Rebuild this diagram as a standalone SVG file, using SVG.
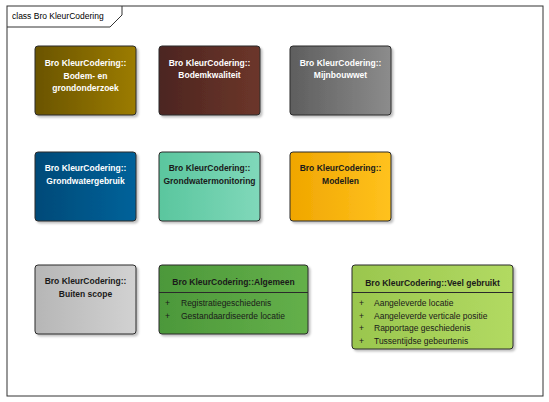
<svg xmlns="http://www.w3.org/2000/svg" width="549" height="402" viewBox="0 0 549 402">
<defs>
<linearGradient id="g1" x1="0" x2="1" y1="0" y2="0"><stop offset="0" stop-color="#6a5400"/><stop offset="1" stop-color="#9c7c00"/></linearGradient>
<linearGradient id="g2" x1="0" x2="1"><stop offset="0" stop-color="#4c2520"/><stop offset="1" stop-color="#6c362a"/></linearGradient>
<linearGradient id="g3" x1="0" x2="1"><stop offset="0" stop-color="#5e5e5e"/><stop offset="1" stop-color="#8c8c8c"/></linearGradient>
<linearGradient id="g4" x1="0" x2="1"><stop offset="0" stop-color="#004a78"/><stop offset="1" stop-color="#00629a"/></linearGradient>
<linearGradient id="g5" x1="0" x2="1"><stop offset="0" stop-color="#5ac69e"/><stop offset="1" stop-color="#80d8ba"/></linearGradient>
<linearGradient id="g6" x1="0" x2="1"><stop offset="0" stop-color="#f0a600"/><stop offset="1" stop-color="#ffc21e"/></linearGradient>
<linearGradient id="g7" x1="0" x2="1"><stop offset="0" stop-color="#b6b6b6"/><stop offset="1" stop-color="#d2d2d2"/></linearGradient>
<linearGradient id="g8" x1="0" x2="1"><stop offset="0" stop-color="#4c983a"/><stop offset="1" stop-color="#64b04a"/></linearGradient>
<linearGradient id="g9" x1="0" x2="1"><stop offset="0" stop-color="#9ac64e"/><stop offset="1" stop-color="#b2da62"/></linearGradient>
<filter id="sh" x="-10%" y="-10%" width="130%" height="130%"><feDropShadow dx="2" dy="2" stdDeviation="1.2" flood-color="#000" flood-opacity="0.25"/></filter>
</defs>
<style>
.box{stroke:#2a2a2a;stroke-width:1;filter:url(#sh)}
text{font-family:"Liberation Sans",Arial,sans-serif;font-size:8.5px}
.t{font-weight:bold;text-anchor:middle}
.w{fill:#ffffff}
.d{fill:#1a1a1a}
.a{fill:#1a1a1a}
.sep{stroke:#2a2a2a;stroke-width:1}
</style>
<rect width="549" height="402" fill="#ffffff"/>
<g id="frame">
<rect x="7" y="6" width="536" height="390" fill="none" stroke="#333" stroke-width="1"/>
<path d="M7 27 H110 L122 15 V6" fill="none" stroke="#333" stroke-width="1"/>
<text x="12" y="19" fill="#000">class Bro KleurCodering</text>
</g>
<g id="connectors"></g>
<g id="n1"><rect class="box" x="35" y="46" width="101" height="69" rx="3" fill="url(#g1)"/>
<text class="t w" x="85.5" y="66">Bro KleurCodering::</text><text class="t w" x="85.5" y="78.5">Bodem- en</text><text class="t w" x="85.5" y="91">grondonderzoek</text></g>
<g id="n2"><rect class="box" x="159" y="46" width="101" height="69" rx="3" fill="url(#g2)"/>
<text class="t w" x="209.5" y="66">Bro KleurCodering::</text><text class="t w" x="209.5" y="78">Bodemkwaliteit</text></g>
<g id="n3"><rect class="box" x="290" y="46" width="101" height="69" rx="3" fill="url(#g3)"/>
<text class="t w" x="340.5" y="66">Bro KleurCodering::</text><text class="t w" x="340.5" y="78">Mijnbouwwet</text></g>
<g id="n4"><rect class="box" x="35" y="152" width="101" height="69" rx="3" fill="url(#g4)"/>
<text class="t w" x="85.5" y="171">Bro KleurCodering::</text><text class="t w" x="85.5" y="183.5">Grondwatergebruik</text></g>
<g id="n5"><rect class="box" x="159" y="152" width="101" height="69" rx="3" fill="url(#g5)"/>
<text class="t d" x="209.5" y="171">Bro KleurCodering::</text><text class="t d" x="209.5" y="183.5">Grondwatermonitoring</text></g>
<g id="n6"><rect class="box" x="290" y="152" width="101" height="69" rx="3" fill="url(#g6)"/>
<text class="t d" x="340.5" y="171">Bro KleurCodering::</text><text class="t d" x="340.5" y="183.5">Modellen</text></g>
<g id="n7"><rect class="box" x="35" y="265" width="101" height="69" rx="3" fill="url(#g7)"/>
<text class="t d" x="85.5" y="284">Bro KleurCodering::</text><text class="t d" x="85.5" y="296.5">Buiten scope</text></g>
<g id="n8"><rect class="box" x="159" y="265" width="149" height="69" rx="3" fill="url(#g8)"/>
<text class="t d" x="233.5" y="284.5">Bro KleurCodering::Algemeen</text>
<line class="sep" x1="159" y1="292.5" x2="308" y2="292.5"/>
<text class="a" x="165" y="306">+</text><text class="a" x="181" y="306">Registratiegeschiedenis</text>
<text class="a" x="165" y="318.5">+</text><text class="a" x="181" y="318.5">Gestandaardiseerde locatie</text></g>
<g id="n9"><rect class="box" x="352" y="265" width="161" height="84" rx="3" fill="url(#g9)"/>
<text class="t d" x="432.5" y="285.5">Bro KleurCodering::Veel gebruikt</text>
<line class="sep" x1="352" y1="292.5" x2="513" y2="292.5"/>
<text class="a" x="359" y="306">+</text><text class="a" x="374" y="306">Aangeleverde locatie</text>
<text class="a" x="359" y="318.5">+</text><text class="a" x="374" y="318.5">Aangeleverde verticale positie</text>
<text class="a" x="359" y="331">+</text><text class="a" x="374" y="331">Rapportage geschiedenis</text>
<text class="a" x="359" y="343.5">+</text><text class="a" x="374" y="343.5">Tussentijdse gebeurtenis</text></g>
</svg>
